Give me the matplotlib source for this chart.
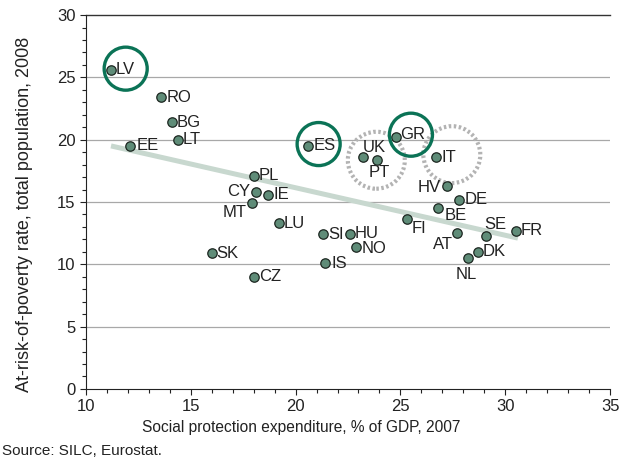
import matplotlib
matplotlib.use('Agg')
import matplotlib.pyplot as plt
import numpy as np

## data
countries = ['LV', 'RO', 'BG', 'LT', 'EE', 'ES', 'PL', 'CY', 'IE', 'MT',
             'LU', 'SK', 'CZ', 'SI', 'HU', 'NO', 'IS', 'UK', 'PT', 'GR',
             'IT', 'HV', 'DE', 'BE', 'FI', 'AT', 'SE', 'FR', 'DK', 'NL']
spending = [11.2, 13.6, 14.1, 14.4, 12.1, 20.6, 18.0, 18.1, 18.7, 17.9,
            19.2, 16.0, 18.0, 21.3, 22.6, 22.9, 21.4, 23.2, 23.9, 24.8,
            26.7, 27.2, 27.8, 26.8, 25.3, 27.7, 29.1, 30.5, 28.7, 28.2]
poverty = [25.6, 23.4, 21.4, 20.0, 19.5, 19.5, 17.1, 15.8, 15.6, 14.9,
           13.3, 10.9, 9.0, 12.4, 12.4, 11.4, 10.1, 18.6, 18.4, 20.2,
           18.6, 16.3, 15.2, 14.5, 13.6, 12.5, 12.3, 12.7, 11.0, 10.5]

# trend line end points
trend_x = [11.2, 30.6]
trend_y = [19.5, 12.1]

# highlight rings: solid green and dotted grey
solid_x = [11.9, 21.1, 25.5]
solid_y = [25.7, 19.65, 20.4]
dotted_x = [23.85, 27.45]
dotted_y = [18.35, 18.8]

# label offsets in pixels (default: right of the dot)
offsets = {'CY': (-5, 1, 'right', 'center'), 'MT': (-5, -9, 'right', 'center'),
           'HV': (-6, -2, 'right', 'center'), 'AT': (-4, -11, 'right', 'center'),
           'BE': (6, -7, 'left', 'center'), 'FI': (5, -9, 'left', 'center'),
           'SE': (-2, 11, 'left', 'center'), 'NL': (-1, -16, 'center', 'center'),
           'PT': (2, -13, 'center', 'center'), 'UK': (0, 10, 'left', 'center'),
           'GR': (4, 3, 'left', 'center'), 'IS': (7, 0, 'left', 'center'),
           'EE': (7, 0, 'left', 'center'), 'HU': (5, 1, 'left', 'center'),
           'NO': (5, -2, 'left', 'center')}

plt.rcParams['font.family'] = ['Liberation Sans', 'DejaVu Sans']

fig = plt.figure(figsize=(6.22, 4.57), dpi=100)
ax = fig.add_axes([0.138, 0.149, 0.843, 0.818])

ax.set_xlim(10, 35)
ax.set_ylim(0, 30)

# grid lines
for yv in [5, 10, 15, 20, 25]:
    ax.axhline(yv, color='#a8a8a8', lw=0.9, zorder=0)
ax.axhline(30, color='#333333', lw=1.0, zorder=0, clip_on=False)

ax.plot(trend_x, trend_y, color='#c8d8cf', lw=3.6, solid_capstyle='butt', zorder=1)

ax.scatter(spending, poverty, s=46, facecolor='#5f8c78', edgecolor='#1c2620',
           linewidths=0.9, zorder=3)

ax.scatter(solid_x, solid_y, s=960, facecolor='none', edgecolor='#0b7356',
           linewidths=2.4, zorder=4)
ax.scatter(dotted_x, dotted_y, s=1680, facecolor='none', edgecolor='#b3b3b3',
           linewidths=3.0, linestyle=(0, (0.6, 0.6)), zorder=2)

for c, xv, yv in zip(countries, spending, poverty):
    dx, dy, ha, va = offsets.get(c, (5, 0, 'left', 'center'))
    ax.annotate(c, (xv, yv), xytext=(dx, dy), textcoords='offset pixels',
                ha=ha, va=va, fontsize=12, color='#222222', zorder=5)

for s in ['top', 'right']:
    ax.spines[s].set_visible(False)
ax.spines['left'].set_color('#222222')
ax.spines['bottom'].set_color('#222222')

ax.set_xticks(np.arange(10, 36, 5))
ax.set_yticks(np.arange(0, 31, 5))
ax.set_xticks(np.arange(10, 36, 1), minor=True)
ax.set_yticks(np.arange(0, 31, 1), minor=True)
ax.tick_params(which='major', length=4, width=0.8, labelsize=12, colors='#222222')
ax.tick_params(which='minor', length=3, width=0.8, colors='#222222')

ax.set_xlabel('Social protection expenditure, % of GDP, 2007', fontsize=11.2,
              color='#222222')
ax.xaxis.set_label_coords(0.41, -0.083)
ax.set_ylabel('At-risk-of-poverty rate, total population, 2008', fontsize=13,
              color='#222222')
ax.yaxis.set_label_coords(-0.1, 0.468)

fig.text(0.003, 0.005, 'Source: SILC, Eurostat.', fontsize=11, color='#222222')

fig.savefig('out.png', dpi=100)
